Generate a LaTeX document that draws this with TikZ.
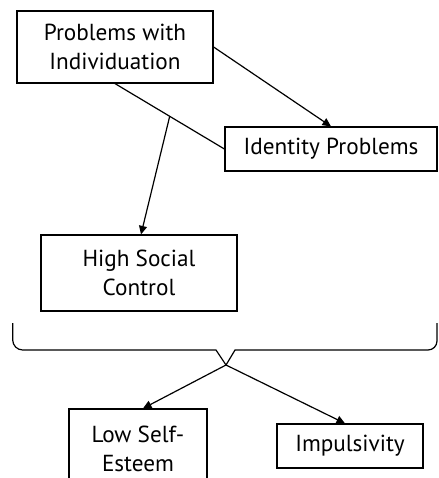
\documentclass[tikz,border=0pt]{standalone}
\usepackage{fontspec}
\setmainfont{PT Sans}
\usetikzlibrary{arrows.meta,calc}
\begin{document}
\begin{tikzpicture}[x=1pt,y=-1pt,
  line width=1.2pt,
  box/.style={draw=black, line width=1.2pt, align=center, inner sep=0pt,
    font=\fontsize{23.2}{29}\selectfont},
  link/.style={draw=black, line width=1.2pt},
  arrow/.style={link, -{Triangle[length=8.5pt,width=8pt]}}]
  \useasboundingbox (0,0) rectangle (438,478);
  \clip (0,0) rectangle (438,478);

  % boxes
  \node[box, minimum width=196pt, minimum height=72pt] (pwi) at (115,47)
    {Problems with\\Individuation};
  \node[box, minimum width=212pt, minimum height=44pt] (idp) at (331,149)
    {Identity Problems};
  \node[box, minimum width=196pt, minimum height=76pt] (hsc) at (139,273)
    {High Social\\Control};
  \node[box, minimum width=138pt, minimum height=80pt] (lse) at (138,449)
    {Low Self-\\Esteem};
  \node[box, minimum width=146pt, minimum height=44pt] (imp) at (350,446)
    {Impulsivity};

  % links from the top box
  \draw[arrow] (pwi.east) -- (idp.north);
  \draw[link] (pwi.south) -- (idp.west) coordinate[pos=0.5] (mid);
  \draw[arrow] (mid) -- ($(hsc.north)+(2,0)$);

  % grouping brace under the upper boxes
  \coordinate (tip) at (226,365);
  \draw[link] (12.7,323) [rounded corners=10pt] -- (12.7,350) -- (100,350)
    [sharp corners] -- (216,350) -- (tip) -- (235,350) -- (300,350)
    [rounded corners=9pt] -- (437,350) -- (437,323);

  % arrows from the brace
  \draw[arrow] (tip) -- ($(lse.north)+(5,0)$);
  \draw[arrow] (tip) -- ($(imp.north)+(-5,0)$);
\end{tikzpicture}
\end{document}
